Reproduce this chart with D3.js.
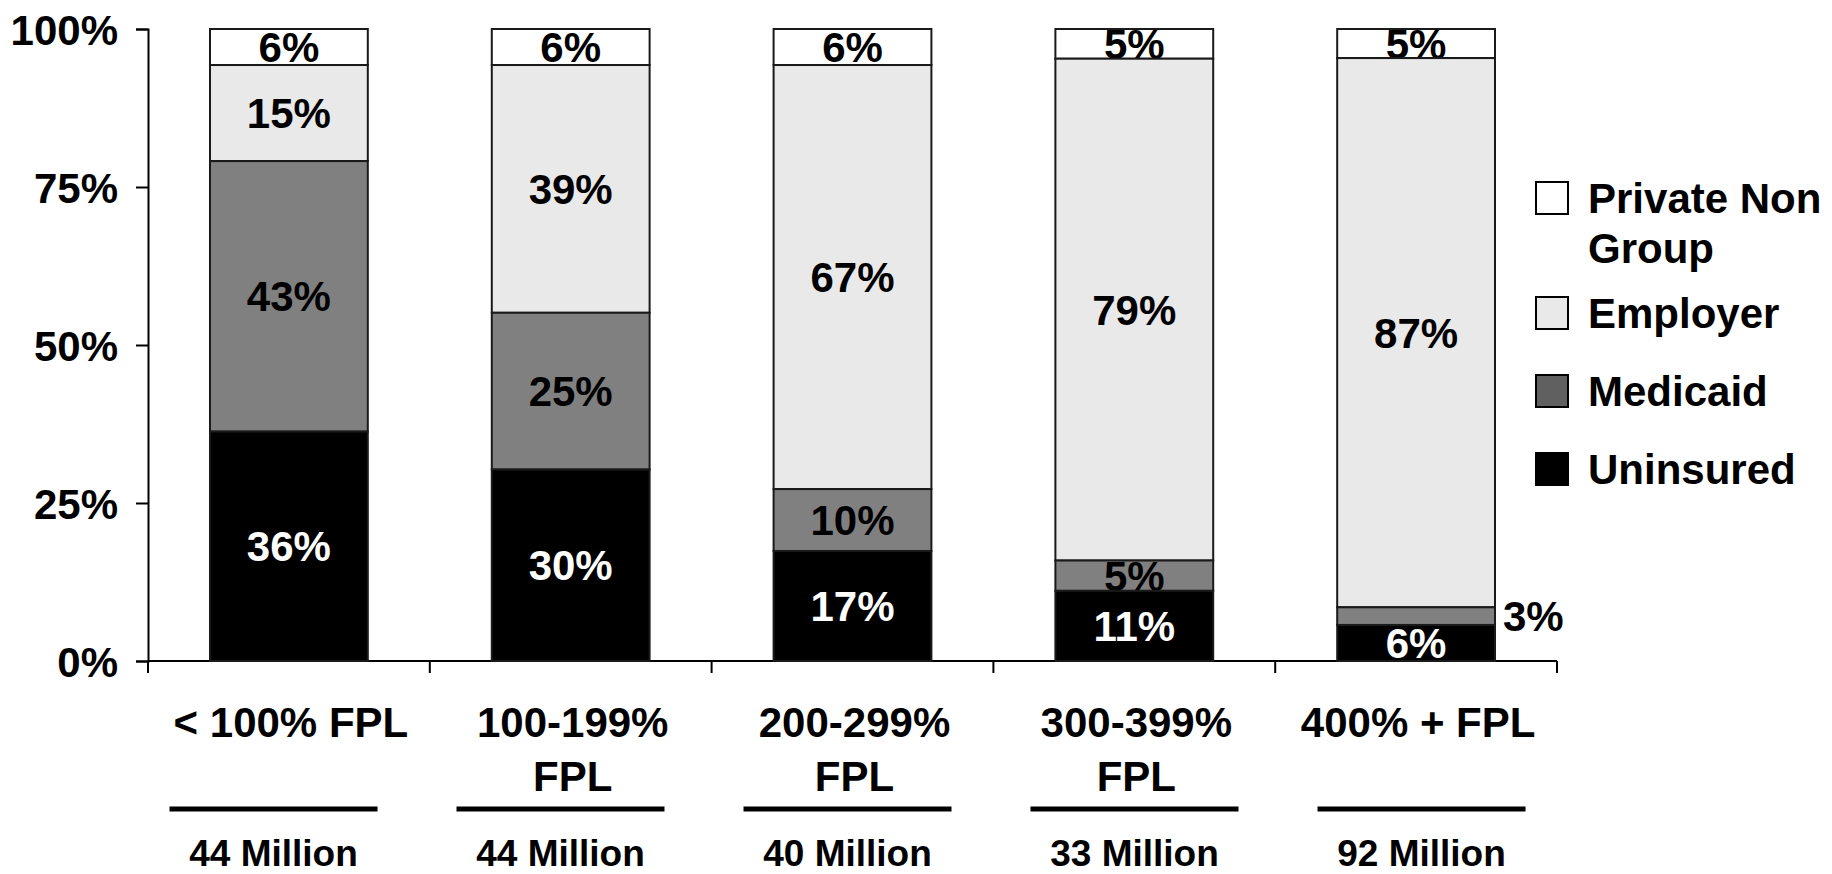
<!DOCTYPE html>
<html>
<head>
<meta charset="utf-8">
<script src="https://cdn.jsdelivr.net/npm/d3@7"></script>
<style>
  body { margin: 0; background: #fff; }
  svg { display: block; font-family: "Liberation Sans", Arial, sans-serif; font-weight: bold; }
</style>
</head>
<body>
<div id="chart"></div>
<script>
// donnees (en %)
var categories = ["< 100% FPL", "100-199% FPL", "200-299% FPL", "300-399% FPL", "400% + FPL"];
var categoryLines = [["< 100% FPL"], ["100-199%", "FPL"], ["200-299%", "FPL"], ["300-399%", "FPL"], ["400% + FPL"]];
var populations = ["44 Million", "44 Million", "40 Million", "33 Million", "92 Million"];
var series = ["Uninsured", "Medicaid", "Employer", "Private Non Group"];
var uninsured = [36.3, 30.3, 17.4, 11.1, 5.7];
var medicaid = [42.8, 24.8, 9.8, 4.8, 2.8];
var employer = [15.2, 39.2, 67.1, 79.4, 86.9];
var privateNonGroup = [5.7, 5.7, 5.7, 4.7, 4.6];
var yTicks = [0, 25, 50, 75, 100];
var legendOrder = ["Private Non Group", "Employer", "Medicaid", "Uninsured"];
var legendLines = [["Private Non", "Group"], ["Employer"], ["Medicaid"], ["Uninsured"]];

var fills = { "Uninsured": "#000000", "Medicaid": "#808080", "Employer": "#e9e9e9", "Private Non Group": "#ffffff" };
var legendFills = { "Uninsured": "#000000", "Medicaid": "#606060", "Employer": "#e9e9e9", "Private Non Group": "#ffffff" };

var W = 1832, H = 874;
var FS = 42;
var svg = d3.select("#chart").append("svg").attr("width", W).attr("height", H);

var rows = categories.map(function(c, i) {
    return { cat: c, "Uninsured": uninsured[i], "Medicaid": medicaid[i], "Employer": employer[i], "Private Non Group": privateNonGroup[i] };
});
var stacked = d3.stack().keys(series)(rows);

var padIn = 0.44;
var x = d3.scaleBand().domain(categories).range([148, 1557]).paddingInner(padIn).paddingOuter(padIn / 2);
var xb = d3.scaleBand().domain(categories).range([130, 1565]); // ligne du bas (traits + millions)
var y = d3.scaleLinear().domain([0, 100]).range([661, 29]);
var bw = x.bandwidth();

// axe Y
var yAxis = svg.append("g").attr("transform", "translate(148,0)")
    .call(d3.axisLeft(y).tickValues(yTicks).tickFormat(function(d) { return d + "%"; }).tickSize(12).tickPadding(18));
yAxis.select(".domain").attr("stroke", "#000").attr("stroke-width", 2);
yAxis.selectAll(".tick line").attr("stroke", "#000").attr("stroke-width", 2);
yAxis.selectAll(".tick text").attr("font-size", FS).attr("font-family", "Liberation Sans, Arial, sans-serif")
    .attr("font-weight", "bold").attr("fill", "#000").attr("dy", "0.36em");

// axe X : graduations aux limites des categories
var step = x.step();
var bounds = [x.range()[0]].concat(categories.map(function(c) { return x(c) + bw + step * padIn / 2; }));
svg.append("line").attr("x1", bounds[0]).attr("x2", bounds[bounds.length - 1])
    .attr("y1", y(0)).attr("y2", y(0)).attr("stroke", "#000").attr("stroke-width", 2);
svg.selectAll(".xtick").data(bounds).enter().append("line")
    .attr("x1", function(d) { return d; }).attr("x2", function(d) { return d; })
    .attr("y1", y(0)).attr("y2", y(0) + 12).attr("stroke", "#000").attr("stroke-width", 2);

// barres empilees, du haut vers le bas pour que le noir recouvre les etiquettes qui debordent
stacked.slice().reverse().forEach(function(layer) {
    var g = svg.append("g");
    g.selectAll("rect").data(layer).enter().append("rect")
        .attr("x", function(d) { return x(d.data.cat); })
        .attr("width", bw)
        .attr("y", function(d) { return y(d[1]); })
        .attr("height", function(d) { return y(d[0]) - y(d[1]); })
        .attr("fill", fills[layer.key])
        .attr("stroke", "#1a1a1a").attr("stroke-width", 2);
    g.selectAll("text").data(layer).enter().append("text")
        .attr("x", function(d) {
            return (d[1] - d[0]) < 4 ? x(d.data.cat) + bw + 8 : x(d.data.cat) + bw / 2;
        })
        .attr("y", function(d) { return y((d[0] + d[1]) / 2); })
        .attr("dy", "0.36em")
        .attr("text-anchor", function(d) { return (d[1] - d[0]) < 4 ? "start" : "middle"; })
        .attr("font-size", FS)
        .attr("fill", function(d) { return (layer.key == "Uninsured" && (d[1] - d[0]) >= 4) ? "#fff" : "#000"; })
        .text(function(d) { return Math.round(d[1] - d[0]) + "%"; });
});

// libelles des categories
var catG = svg.selectAll(".cat").data(categories).enter().append("text")
    .attr("text-anchor", "middle").attr("font-size", FS)
    .attr("transform", function(d) { return "translate(" + (x(d) + bw / 2 + 2) + ",737)"; });
catG.selectAll("tspan").data(function(d, i) { return categoryLines[i]; }).enter().append("tspan")
    .attr("x", 0).attr("dy", function(d, i) { return i == 0 ? 0 : 54; })
    .text(function(d) { return d; });

// traits et populations
svg.selectAll(".ul").data(categories).enter().append("line")
    .attr("x1", function(d) { return xb(d) + xb.bandwidth() / 2 - 104; })
    .attr("x2", function(d) { return xb(d) + xb.bandwidth() / 2 + 104; })
    .attr("y1", 809).attr("y2", 809).attr("stroke", "#000").attr("stroke-width", 5);
svg.selectAll(".pop").data(categories).enter().append("text")
    .attr("x", function(d) { return xb(d) + xb.bandwidth() / 2; })
    .attr("y", 866).attr("text-anchor", "middle").attr("font-size", 37)
    .text(function(d, i) { return populations[i]; });

// legende
var ly = 182;
legendOrder.forEach(function(k, i) {
    var g = svg.append("g").attr("transform", "translate(1536," + ly + ")");
    g.append("rect").attr("width", 32).attr("height", 32)
        .attr("fill", legendFills[k]).attr("stroke", "#000").attr("stroke-width", 2);
    var t = g.append("text").attr("x", 52).attr("y", 31).attr("font-size", FS);
    legendLines[i].forEach(function(l, j) {
        t.append("tspan").attr("x", 52).attr("dy", j == 0 ? 0 : 50).text(l);
    });
    ly += 78 + (legendLines[i].length - 1) * 37;
});
</script>
</body>
</html>
